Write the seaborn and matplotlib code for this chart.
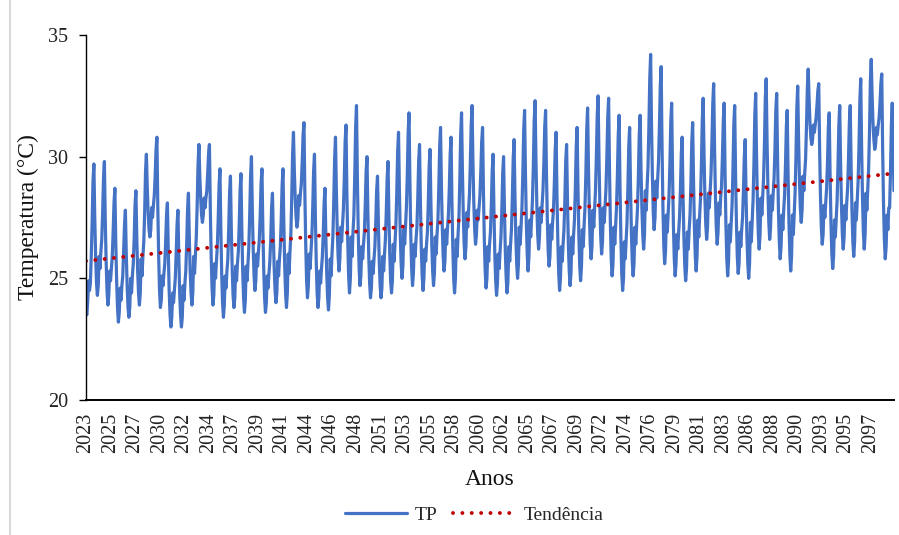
import numpy as np
import pandas as pd
import seaborn as sns
import matplotlib
matplotlib.use("Agg")
import matplotlib.pyplot as plt
from matplotlib.lines import Line2D

sns.set_theme(style="white")
plt.rcParams['font.family'] = ['Liberation Serif', 'DejaVu Serif']

# Monthly temperature (TP, °C), Jan..Dec for each year 2023-2099
tp = [
    23.6, 23.5, 24.1, 24.9, 24.5, 24.8, 25.9, 27.3, 29.0, 29.7, 27.5, 25.9,  # 2023
    24.8, 24.3, 24.7, 25.9, 25.4, 26.1, 26.6, 27.7, 29.1, 29.8, 27.4, 25.7,  # 2024
    24.5, 23.9, 24.3, 25.3, 24.9, 25.4, 25.9, 26.9, 28.1, 28.7, 26.5, 24.9,  # 2025
    23.8, 23.2, 23.6, 24.6, 24.1, 24.7, 25.1, 26.1, 27.2, 27.8, 26.0, 24.7,  # 2026
    23.8, 23.4, 23.8, 25.0, 24.4, 25.1, 25.6, 26.6, 28.0, 28.6, 26.7, 25.3,  # 2027
    24.4, 23.9, 24.4, 25.8, 25.1, 25.9, 26.5, 27.7, 29.4, 30.1, 28.7, 27.7,  # 2028
    27.0, 26.7, 27.0, 27.9, 27.5, 28.0, 28.4, 29.2, 30.3, 30.8, 28.0, 25.9,  # 2029
    24.5, 23.8, 24.1, 25.1, 24.7, 25.2, 25.6, 26.5, 27.6, 28.1, 26.1, 24.5,  # 2030
    23.5, 23.0, 23.4, 24.4, 24.0, 24.5, 25.0, 26.0, 27.2, 27.8, 25.9, 24.4,  # 2031
    23.5, 23.0, 23.4, 24.7, 24.1, 24.8, 25.3, 26.4, 27.8, 28.5, 26.7, 25.3,  # 2032
    24.4, 23.9, 24.4, 25.9, 25.2, 26.0, 26.7, 28.0, 29.7, 30.5, 29.2, 28.3,  # 2033
    27.6, 27.3, 27.6, 28.3, 27.9, 28.3, 28.6, 29.3, 30.1, 30.5, 27.9, 25.9,  # 2034
    24.6, 23.9, 24.3, 25.6, 25.0, 25.7, 26.3, 27.4, 28.8, 29.5, 27.1, 25.2,  # 2035
    24.0, 23.4, 23.9, 25.1, 24.6, 25.3, 25.8, 27.0, 28.5, 29.2, 27.0, 25.4,  # 2036
    24.3, 23.8, 24.2, 25.5, 24.9, 25.6, 26.1, 27.2, 28.6, 29.3, 27.0, 25.3,  # 2037
    24.2, 23.6, 24.1, 25.5, 24.9, 25.6, 26.3, 27.6, 29.2, 30.0, 27.8, 26.2,  # 2038
    25.1, 24.5, 24.9, 26.0, 25.5, 26.1, 26.6, 27.6, 28.9, 29.5, 27.1, 25.4,  # 2039
    24.2, 23.6, 24.0, 25.1, 24.6, 25.2, 25.7, 26.6, 27.9, 28.5, 26.7, 25.4,  # 2040
    24.5, 24.0, 24.4, 25.7, 25.1, 25.8, 26.3, 27.4, 28.8, 29.5, 27.2, 25.5,  # 2041
    24.4, 23.8, 24.4, 26.0, 25.2, 26.1, 26.8, 28.3, 30.1, 31.0, 29.4, 28.3,  # 2042
    27.5, 27.1, 27.4, 28.4, 28.0, 28.5, 28.9, 29.8, 30.9, 31.4, 28.5, 26.4,  # 2043
    24.9, 24.2, 24.7, 26.0, 25.4, 26.1, 26.7, 27.9, 29.4, 30.1, 27.6, 25.7,  # 2044
    24.4, 23.8, 24.2, 25.3, 24.8, 25.4, 25.9, 26.8, 28.1, 28.7, 26.7, 25.2,  # 2045
    24.2, 23.7, 24.3, 25.8, 25.1, 26.0, 26.7, 28.1, 29.9, 30.8, 28.6, 27.0,  # 2046
    25.9, 25.3, 25.8, 27.1, 26.5, 27.2, 27.8, 29.0, 30.6, 31.3, 28.5, 26.5,  # 2047
    25.1, 24.4, 25.0, 26.7, 25.9, 26.9, 27.6, 29.2, 31.2, 32.1, 29.1, 26.9,  # 2048
    25.4, 24.7, 25.1, 26.3, 25.8, 26.4, 26.9, 28.0, 29.4, 30.0, 27.7, 25.9,  # 2049
    24.8, 24.2, 24.6, 25.7, 25.2, 25.8, 26.3, 27.3, 28.6, 29.2, 27.2, 25.7,  # 2050
    24.7, 24.2, 24.6, 25.9, 25.3, 26.0, 26.6, 27.7, 29.1, 29.8, 27.6, 26.0,  # 2051
    24.9, 24.4, 24.9, 26.4, 25.7, 26.5, 27.2, 28.5, 30.2, 31.0, 28.6, 26.8,  # 2052
    25.6, 25.0, 25.5, 27.0, 26.4, 27.2, 27.9, 29.2, 31.0, 31.8, 29.0, 26.8,  # 2053
    25.4, 24.7, 25.2, 26.4, 25.9, 26.6, 27.1, 28.3, 29.8, 30.5, 28.1, 26.3,  # 2054
    25.1, 24.5, 25.0, 26.2, 25.7, 26.4, 26.9, 28.1, 29.6, 30.3, 28.1, 26.4,  # 2055
    25.3, 24.7, 25.2, 26.7, 26.0, 26.8, 27.4, 28.7, 30.4, 31.2, 28.8, 27.1,  # 2056
    25.9, 25.3, 25.7, 27.0, 26.4, 27.1, 27.6, 28.7, 30.1, 30.8, 28.2, 26.3,  # 2057
    25.0, 24.4, 25.0, 26.6, 25.9, 26.8, 27.5, 29.0, 30.9, 31.8, 29.4, 27.6,  # 2058
    26.4, 25.8, 26.3, 27.7, 27.1, 27.8, 28.4, 29.7, 31.3, 32.1, 29.8, 28.1,  # 2059
    27.0, 26.4, 26.8, 27.8, 27.4, 27.9, 28.4, 29.4, 30.6, 31.2, 28.6, 26.6,  # 2060
    25.3, 24.6, 25.0, 26.3, 25.7, 26.4, 26.9, 28.0, 29.4, 30.1, 27.8, 26.0,  # 2061
    24.9, 24.3, 24.8, 26.0, 25.4, 26.1, 26.7, 27.8, 29.3, 30.0, 27.8, 26.1,  # 2062
    25.0, 24.4, 24.9, 26.3, 25.7, 26.4, 27.0, 28.3, 29.9, 30.7, 28.4, 26.7,  # 2063
    25.6, 25.0, 25.6, 27.1, 26.4, 27.2, 27.9, 29.3, 31.1, 31.9, 29.3, 27.3,  # 2064
    26.0, 25.3, 25.9, 27.4, 26.7, 27.5, 28.2, 29.6, 31.5, 32.3, 29.9, 28.0,  # 2065
    26.8, 26.2, 26.7, 27.9, 27.3, 28.0, 28.6, 29.7, 31.2, 31.9, 29.3, 27.4,  # 2066
    26.1, 25.5, 25.9, 27.2, 26.6, 27.3, 27.8, 28.9, 30.3, 31.0, 28.4, 26.5,  # 2067
    25.2, 24.5, 25.0, 26.3, 25.7, 26.4, 27.0, 28.2, 29.8, 30.5, 28.2, 26.4,  # 2068
    25.3, 24.7, 25.2, 26.7, 26.0, 26.8, 27.4, 28.7, 30.4, 31.2, 28.7, 26.8,  # 2069
    25.5, 24.9, 25.5, 27.0, 26.3, 27.2, 27.9, 29.3, 31.1, 32.0, 29.5, 27.7,  # 2070
    26.4, 25.8, 26.3, 27.8, 27.1, 27.9, 28.6, 30.0, 31.7, 32.5, 29.9, 28.0,  # 2071
    26.7, 26.0, 26.5, 27.9, 27.3, 28.0, 28.7, 30.0, 31.6, 32.4, 29.5, 27.3,  # 2072
    25.8, 25.1, 25.6, 27.1, 26.4, 27.2, 27.9, 29.2, 30.9, 31.7, 28.8, 26.7,  # 2073
    25.2, 24.5, 25.0, 26.5, 25.8, 26.6, 27.3, 28.7, 30.4, 31.2, 28.8, 26.9,  # 2074
    25.7, 25.1, 25.6, 27.1, 26.4, 27.2, 27.9, 29.2, 30.9, 31.7, 29.5, 27.9,  # 2075
    26.8, 26.2, 26.8, 28.6, 27.8, 28.8, 29.6, 31.2, 33.2, 34.2, 31.3, 29.2,  # 2076
    27.7, 27.0, 27.5, 29.0, 28.3, 29.1, 29.8, 31.2, 32.9, 33.7, 30.5, 28.0,  # 2077
    26.4, 25.6, 26.1, 27.6, 26.9, 27.7, 28.4, 29.7, 31.4, 32.2, 29.4, 27.2,  # 2078
    25.8, 25.1, 25.6, 26.8, 26.2, 26.9, 27.5, 28.6, 30.1, 30.8, 28.4, 26.7,  # 2079
    25.5, 24.9, 25.4, 26.9, 26.2, 27.0, 27.6, 28.9, 30.6, 31.4, 29.0, 27.1,  # 2080
    25.9, 25.3, 25.9, 27.4, 26.7, 27.6, 28.3, 29.7, 31.5, 32.4, 30.1, 28.3,  # 2081
    27.2, 26.6, 27.1, 28.5, 27.9, 28.6, 29.3, 30.6, 32.2, 33.0, 30.4, 28.4,  # 2082
    27.1, 26.4, 26.9, 28.1, 27.6, 28.3, 28.8, 30.0, 31.5, 32.2, 29.4, 27.2,  # 2083
    25.8, 25.1, 25.7, 27.2, 26.5, 27.3, 28.0, 29.4, 31.3, 32.1, 29.3, 27.3,  # 2084
    25.9, 25.2, 25.6, 26.9, 26.3, 27.0, 27.5, 28.6, 30.0, 30.7, 28.4, 26.7,  # 2085
    25.6, 25.0, 25.6, 27.3, 26.5, 27.4, 28.2, 29.7, 31.7, 32.6, 30.0, 28.1,  # 2086
    26.8, 26.2, 26.8, 28.3, 27.6, 28.4, 29.1, 30.5, 32.4, 33.2, 30.6, 28.6,  # 2087
    27.3, 26.6, 27.1, 28.4, 27.8, 28.5, 29.1, 30.3, 31.9, 32.6, 29.9, 27.8,  # 2088
    26.5, 25.8, 26.3, 27.6, 27.0, 27.8, 28.4, 29.6, 31.2, 31.9, 29.3, 27.3,  # 2089
    26.0, 25.3, 25.9, 27.6, 26.8, 27.7, 28.5, 30.0, 32.0, 32.9, 30.7, 29.0,  # 2090
    27.9, 27.3, 27.8, 29.2, 28.6, 29.3, 29.9, 31.2, 32.8, 33.6, 32.4, 31.4,  # 2091
    30.8, 30.5, 30.7, 31.3, 31.0, 31.3, 31.6, 32.1, 32.7, 33.0, 30.4, 28.4,  # 2092
    27.1, 26.4, 26.8, 28.0, 27.5, 28.1, 28.7, 29.7, 31.2, 31.8, 29.2, 27.3,  # 2093
    26.0, 25.4, 25.9, 27.4, 26.7, 27.5, 28.2, 29.6, 31.3, 32.1, 29.7, 28.0,  # 2094
    26.8, 26.2, 26.7, 28.0, 27.4, 28.1, 28.7, 29.9, 31.4, 32.1, 29.6, 27.8,  # 2095
    26.5, 25.9, 26.5, 28.1, 27.4, 28.2, 29.0, 30.4, 32.3, 33.2, 30.4, 28.3,  # 2096
    26.9, 26.2, 26.8, 28.5, 27.8, 28.7, 29.5, 31.0, 33.1, 34.0, 32.5, 31.4,  # 2097
    30.7, 30.3, 30.5, 31.2, 30.9, 31.3, 31.6, 32.2, 33.0, 33.4, 30.4, 28.1,  # 2098
    26.6, 25.8, 26.3, 27.6, 27.0, 27.9, 27.9, 29.4, 31.3, 32.2, 30.5, 28.6,  # 2099
]

tick_labels = ['2023', '2025', '2027', '2030', '2032', '2034', '2037', '2039',
               '2041', '2044', '2046', '2048', '2051', '2053', '2055', '2058',
               '2060', '2062', '2065', '2067', '2069', '2072', '2074', '2076',
               '2079', '2081', '2083', '2086', '2088', '2090', '2093', '2095',
               '2097']
tick_step = 28  # months between labelled categories
y_ticks = [20, 25, 30, 35]
series_names = ['TP', 'Tendência']

df = pd.DataFrame({'mes': np.arange(len(tp)), 'TP': tp})
coef = np.polyfit(df['mes'], df['TP'], 1)
df['Tendência'] = np.polyval(coef, df['mes'])

W, H = 899, 535
fig = plt.figure(figsize=(W / 100, H / 100), dpi=100)
fig.patch.set_facecolor('white')
ax = fig.add_axes([86 / W, (H - 400) / H, (894 - 86) / W, 365 / H])

sns.lineplot(data=df, x='mes', y='TP', ax=ax, color='#4472C4', linewidth=2.3,
             estimator=None, errorbar=None, label=series_names[0])
sns.lineplot(data=df, x='mes', y='Tendência', ax=ax, color='#C00000',
             linewidth=2.8, linestyle=(0, (0.01, 2.4)), dash_capstyle='round',
             estimator=None, errorbar=None, label=series_names[1])

if ax.get_legend() is not None:
    ax.get_legend().remove()

ax.set_xlim(0, len(tp) - 1)
ax.set_ylim(y_ticks[0], y_ticks[-1])
ax.set_yticks(y_ticks)
ax.set_yticklabels([str(v) for v in y_ticks])
ax.set_xticks([k * tick_step for k in range(len(tick_labels))])
ax.set_xticklabels(tick_labels, rotation=90)
ax.set_xlabel('')
ax.set_ylabel('')

ax.tick_params(axis='x', length=0, pad=9, labelsize=14.5, colors='#222222')
ax.tick_params(axis='y', length=5, width=1, direction='out', pad=8,
               labelsize=14.5, colors='#222222', left=True)
ax.tick_params(axis='y', color='black')
for side in ['top', 'right']:
    ax.spines[side].set_visible(False)
for side in ['left', 'bottom']:
    ax.spines[side].set_color('black')
ax.spines['left'].set_linewidth(1.0)
ax.spines['bottom'].set_linewidth(1.4)
ax.grid(False)
ax.set_facecolor('white')

fig.text(28 / W, 1 - 217 / H, 'Temperatura (°C)', rotation=90, ha='center',
         va='center', fontsize=17, color='#111111')
fig.text(490 / W, (H - 485) / H, 'Anos', ha='center', va='baseline',
         fontsize=17, color='#111111')

handles = [Line2D([], [], color='#4472C4', linewidth=2.3),
           Line2D([], [], color='#C00000', linewidth=2.8,
                  linestyle=(0, (0.01, 2.4)), dash_capstyle='round')]
fig.legend(handles, series_names, loc='center', bbox_to_anchor=(474 / W, (H - 515) / H),
           ncol=2, frameon=False, fontsize=14, handlelength=3.2,
           handletextpad=0.4, columnspacing=0.8)

# light chart-area border at the left
fig.add_artist(Line2D([10 / W, 10 / W], [0, 1], transform=fig.transFigure,
                      color='#D9D9D9', linewidth=1.5))

fig.savefig('out.png', dpi=100, facecolor='white')
